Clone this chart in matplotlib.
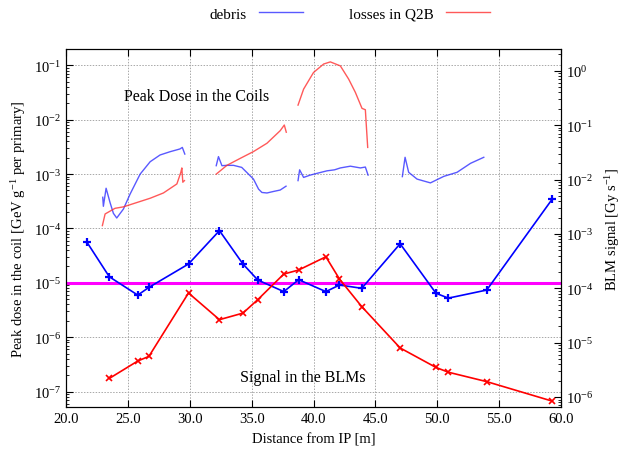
import numpy as np
import matplotlib
matplotlib.use("Agg")
import matplotlib.pyplot as plt
from matplotlib.ticker import LogLocator, NullFormatter

plt.rcParams['font.family'] = ['Liberation Serif', 'DejaVu Serif']
plt.rcParams['mathtext.fontset'] = 'custom'
plt.rcParams['mathtext.rm'] = 'Liberation Serif'
plt.rcParams['mathtext.it'] = 'Liberation Serif:italic'

# BLM positions and signals [Gy/s]
blm_x = [21.7, 23.5, 25.8, 26.7, 29.9, 32.4, 34.3, 35.5, 37.6, 38.8, 41.0, 42.1,
         43.9, 47.0, 49.9, 50.9, 54.0, 59.3]
blm_debris = [7.0e-4, 1.63e-4, 7.5e-5, 1.04e-4, 2.8e-4, 1.15e-3, 2.8e-4, 1.42e-4,
              8.7e-5, 1.44e-4, 8.7e-5, 1.15e-4, 1.0e-4, 6.6e-4, 8.1e-5, 6.6e-5,
              9.3e-5, 4.4e-3]
blm_q2b_x = blm_x[1:]
blm_q2b = [2.2e-6, 4.6e-6, 5.6e-6, 8.2e-5, 2.65e-5, 3.5e-5, 6.2e-5, 1.83e-4,
           2.17e-4, 3.8e-4, 1.48e-4, 4.6e-5, 8.0e-6, 3.5e-6, 2.86e-6, 1.92e-6, 8.4e-7]
threshold = 1e-5

# peak dose in the coils [GeV/g per primary], one list per magnet
debris_x = [
    [22.97, 23.02, 23.24, 23.56, 23.83, 24.1, 24.64, 25.18, 25.99, 26.8, 27.6, 28.4, 29.2, 29.4, 29.6],
    [32.14, 32.32, 32.6, 33.0, 33.54, 34.2, 34.6, 35.15, 35.56, 35.83, 36.24, 36.77, 37.31, 37.78],
    [38.75, 38.88, 39.2, 39.74, 40.4, 41.09, 41.7, 42.17, 42.98, 43.79, 44.19, 44.41],
    [47.18, 47.4, 47.69, 48.37, 49.45, 50.53, 51.6, 52.69, 53.76],
]
debris_y = [
    [3.75e-4, 2.56e-4, 5.5e-4, 3.0e-4, 1.9e-4, 1.56e-4, 2.28e-4, 4.3e-4, 1.0e-3, 1.69e-3, 2.25e-3, 2.58e-3, 2.9e-3, 3.1e-3, 2.34e-3],
    [1.43e-3, 2.1e-3, 1.43e-3, 1.45e-3, 1.45e-3, 1.33e-3, 1.08e-3, 8.1e-4, 5.3e-4, 4.6e-4, 4.5e-4, 4.8e-4, 5.1e-4, 6.0e-4],
    [7.6e-4, 1.2e-3, 8.7e-4, 9.6e-4, 1.05e-3, 1.15e-3, 1.2e-3, 1.3e-3, 1.4e-3, 1.3e-3, 1.35e-3, 9.6e-4],
    [9.0e-4, 2.04e-3, 1.08e-3, 8.1e-4, 6.9e-4, 9.1e-4, 1.08e-3, 1.58e-3, 2.04e-3],
]
losses_x = [
    [22.94, 23.16, 23.42, 23.96, 24.64, 25.72, 26.8, 27.87, 28.96, 29.28, 29.36, 29.44, 29.57],
    [32.14, 33.0, 34.08, 35.15, 36.24, 37.31, 37.64, 37.8],
    [38.75, 39.2, 40.0, 40.82, 41.36, 42.17, 42.84, 43.38, 43.92, 44.19, 44.27, 44.38],
]
losses_y = [
    [1.13e-4, 1.85e-4, 2.0e-4, 2.35e-4, 2.5e-4, 3.0e-4, 3.6e-4, 4.5e-4, 6.6e-4, 1.08e-3, 1.3e-3, 7.1e-4, 7.6e-4],
    [1.0e-3, 1.45e-3, 1.95e-3, 2.6e-3, 3.7e-3, 6.3e-3, 8.0e-3, 5.9e-3],
    [1.86e-2, 3.66e-2, 7.4e-2, 0.106, 0.116, 0.098, 5.6e-2, 3.2e-2, 1.62e-2, 1.53e-2, 7.76e-3, 3.1e-3],
]

fig = plt.figure(figsize=(6.25, 4.52), dpi=100)
ax = fig.add_axes([0.1056, 0.0973, 0.7920, 0.7920])
ax2 = ax.twinx()

ylim_left = (5.2e-8, 0.2)
scale = 12.6
ax.set_yscale('log')
ax2.set_yscale('log')
ax.set_ylim(*ylim_left)
ax2.set_ylim(ylim_left[0] * scale, ylim_left[1] * scale)
ax.set_xlim(20, 60)

for i, (xs, ys) in enumerate(zip(debris_x, debris_y)):
    ax.plot(xs, ys, color='#3030ff', lw=1.0, alpha=0.8,
            label='debris' if i == 0 else None)
for i, (xs, ys) in enumerate(zip(losses_x, losses_y)):
    ax.plot(xs, ys, color='#ff3030', lw=1.0, alpha=0.8,
            label='losses in Q2B' if i == 0 else None)

ax.axhline(threshold, color='#ff00ff', lw=2.2)
ax2.plot(blm_x, blm_debris, color='blue', lw=1.2, marker='+', ms=6, mew=1.6)
ax2.plot(blm_q2b_x, blm_q2b, color='red', lw=1.2, marker='x', ms=5, mew=1.2)

ax.text(24.7, 2.7e-2, 'Peak Dose in the Coils', fontsize=11.5, va='center')
ax.text(34.1, 1.86e-7, 'Signal in the BLMs', fontsize=11.5, va='center')

ax.set_xticks(np.arange(20, 61, 5))
ax.set_xticklabels([f'{v:.1f}' for v in np.arange(20, 61, 5)])
ax.set_xlabel('Distance from IP [m]', fontsize=10.5, labelpad=5)
ax.set_ylabel('Peak dose in the coil [GeV g$^{-1}$ per primary]', fontsize=10.5)
ax2.set_ylabel('BLM signal [Gy s$^{-1}$]', fontsize=10.5, labelpad=7)
ax2.tick_params(axis='x', labelbottom=False, labeltop=False)

for a in (ax, ax2):
    a.yaxis.set_major_locator(LogLocator(base=10, numticks=20))
    a.yaxis.set_minor_locator(LogLocator(base=10, subs=np.arange(2, 10), numticks=20))
    a.yaxis.set_minor_formatter(NullFormatter())
    a.tick_params(which='major', direction='in', length=5, labelsize=10.5)
    a.tick_params(which='minor', direction='in', length=2.5)
ax.tick_params(axis='x', top=True, bottom=True)
ax.tick_params(axis='y', left=True, right=False)

ax.grid(True, which='major', color='#a8a8a8', ls=(0, (1.5, 1.5)), lw=0.7)
ax.set_zorder(ax2.get_zorder() - 1)
ax.patch.set_visible(True)
ax2.patch.set_visible(False)

fig.legend(loc='center', bbox_to_anchor=(0.56, 0.967), ncol=2, frameon=False,
           markerfirst=False, handlelength=2.9, columnspacing=3.0, fontsize=11)

fig.savefig('out.png', dpi=100)
